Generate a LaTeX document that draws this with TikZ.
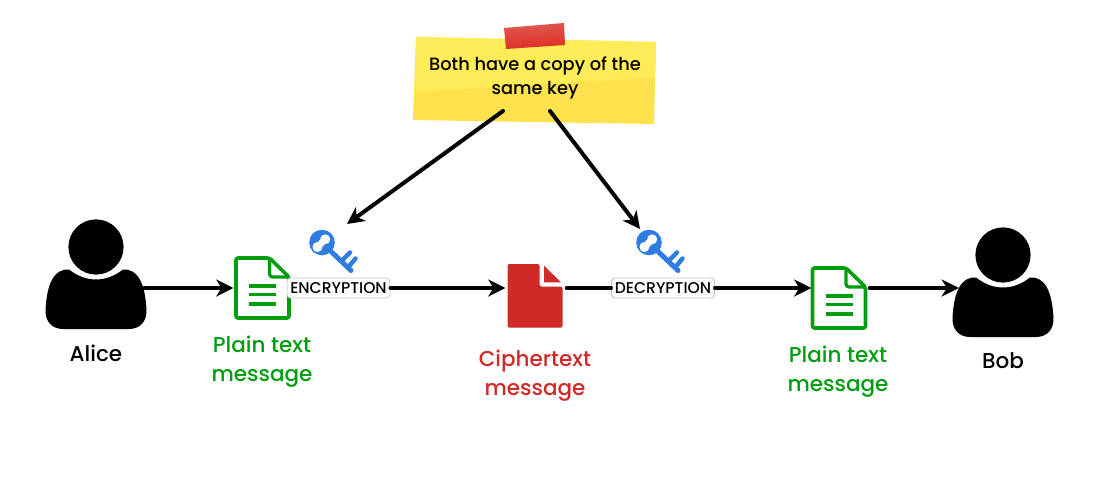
\documentclass[tikz,border=0pt]{standalone}
\usepackage{fontspec}
\setmainfont{Poppins}[UprightFont=* Medium]
\usetikzlibrary{arrows.meta,calc}
\definecolor{docgreen}{HTML}{009E0F}
\definecolor{docred}{HTML}{CF2A27}
\definecolor{keyblue}{HTML}{2F7DE1}
\definecolor{noteA}{HTML}{FFEC56}
\definecolor{noteB}{HTML}{FFE14E}
\definecolor{tapeA}{HTML}{DE5A52}
\definecolor{tapeB}{HTML}{DE2C22}
\tikzset{
  flow/.style={line width=4pt,-{Stealth[length=17pt,width=17pt,inset=5pt]},line cap=round},
  plainline/.style={line width=4pt,line cap=round},
  caption/.style={font=\fontsize{21.5}{29}\selectfont,align=center,inner sep=0pt},
  tag/.style={draw=black!22,fill=white,rounded corners=3.5pt,line width=.9pt,font=\fontsize{15.6}{15}\selectfont,inner sep=0pt,minimum width=103pt,minimum height=20pt},
  anchorbox/.style={inner sep=0pt,minimum width=#1,minimum height=4pt},
  person/.pic={
    \fill[black] (0,-22.5) circle[radius=27.6];
    \fill[black] (-27,0) .. controls (-42,-1) and (-49,14) .. (-50.5,40)
      .. controls (-51,52) and (-44,59.5) .. (-33,59.5) -- (33,59.5)
      .. controls (44,59.5) and (51,52) .. (50.5,40)
      .. controls (49,14) and (42,-1) .. (27,0)
      .. controls (18,7) and (9,10) .. (0,10)
      .. controls (-9,10) and (-18,7) .. (-27,0) -- cycle;
  },
  textdoc/.pic={
    \draw[docgreen,line width=3.6pt,line join=round,rounded corners=2pt]
      (0,0) -- (33.5,0) -- (53,19) -- (53,60) -- (0,60) -- cycle;
    \draw[docgreen,line width=3.2pt,line join=round,rounded corners=3pt]
      (33.5,0) -- (33.5,19) -- (53,19);
    \foreach \yy in {28,36.5,46}
      \draw[docgreen,line width=3.6pt] (13,\yy) -- (40,\yy);
  },
  cipherdoc/.pic={
    \fill[docred,rounded corners=2pt] (0,0) -- (32,0) -- (32,22.5) -- (55,22.5) -- (55,63.7) -- (0,63.7) -- cycle;
    \fill[docred] (36.5,1.7) -- (53.5,18.3) -- (36.5,18.3) -- cycle;
  },
  keyicon/.pic={
    \draw[keyblue,line width=5pt,line cap=round] (8,8) -- (29,28);
    \draw[keyblue,line width=4.5pt,line cap=round] (20,18) -- (28,10);
    \draw[keyblue,line width=4.5pt,line cap=round] (26.5,24.5) -- (33.5,16);
    \fill[keyblue] (0,0) circle[radius=12.8];
    \fill[white] (-4.5,4.5) circle[radius=5];
    \fill[white] (3.2,-3.2) circle[radius=5];
    \fill[white] (-.6,.6) circle[radius=3.6];
  }
}
\begin{document}
\begin{tikzpicture}[x=1pt,y=-1pt]
\useasboundingbox (0,0) rectangle (1104,503);

% sticky note
\fill[noteB] (416,37) -- (656,42) -- (654,124) -- (413,120) -- cycle;
\fill[noteA] (416,37) -- (656,42) -- (655,78) .. controls (600,80) and (480,88) .. (415,92) -- cycle;
\shade[top color=tapeA,bottom color=tapeB,shading angle=5] (504,28) -- (564,23) -- (565,45) -- (506,49) -- cycle;
\node[inner sep=0pt,font=\fontsize{17.8}{24}\selectfont,align=center] (note) at (535,77.5) {Both have a copy of the\\same key};
\coordinate (noteL) at (503,111);
\coordinate (noteR) at (550,111);

% icons
\pic at (96,269.5) {person};
\pic at (1003,277.5) {person};
\pic at (236,258) {textdoc};
\pic at (812.5,268) {textdoc};
\pic at (507.5,264) {cipherdoc};
\pic at (322,242.5) {keyicon};
\pic at (649,242.5) {keyicon};

% anchor nodes for the icons
\node[anchorbox=100pt] (alice) at (96,288) {};
\node[anchorbox=100pt] (bob) at (1003,288) {};
\node[anchorbox=55pt] (plainA) at (262,288) {};
\node[anchorbox=55pt] (cipher) at (535,288) {};
\node[anchorbox=55pt] (plainB) at (838,288) {};
\coordinate (keyA) at (347,224);
\coordinate (keyB) at (640,229);

% tags
\node[tag] (enc) at (338.5,288) {ENCRYPTION};
\node[tag] (dec) at (663,288) {DECRYPTION};

% connectors
\draw[flow] (noteL) -- (keyA);
\draw[flow] (noteR) -- (keyB);
\draw[flow] ([xshift=-2pt]alice.east) -- ([xshift=-1pt]plainA.west);
\draw[flow] (enc.east) -- ([xshift=-2pt]cipher.west);
\draw[plainline] ([xshift=4pt]cipher.east) -- (dec.west);
\draw[flow] (dec.east) -- ([xshift=1pt]plainB.west);
\draw[flow] ([xshift=4pt]plainB.east) -- ([xshift=6pt]bob.west);

% captions
\node[caption] (alicet) at (96,353) {Alice};
\node[caption] (bobt) at (1003,361) {Bob};
\node[caption,text=docgreen] (plainAt) at (262,362) {Plain text\\message};
\node[caption,text=docred] (ciphert) at (535,376) {Ciphertext\\message};
\node[caption,text=docgreen] (plainBt) at (838,372) {Plain text\\message};
\end{tikzpicture}
\end{document}
